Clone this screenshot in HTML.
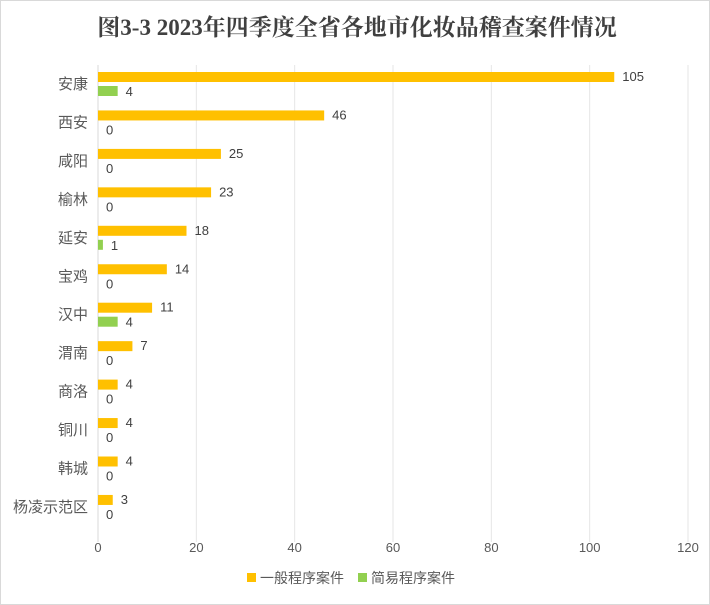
<!DOCTYPE html>
<html><head><meta charset="utf-8"><style>
body{margin:0;background:#fff;}
svg{display:block;font-family:"Liberation Sans","Noto Sans CJK SC",sans-serif;}
</style></head><body>
<svg id="c" width="710" height="605">
<rect x="0.5" y="0.5" width="709" height="604" fill="#fff" stroke="#d9d9d9"/>
<text x="357" y="35" text-anchor="middle" font-size="23" font-weight="bold" fill="#404040" font-family="'Liberation Serif','Noto Serif CJK SC',serif">图3-3  2023年四季度全省各地市化妆品稽查案件情况</text>
<g id="grid"></g><g id="bars"></g><g id="labels"></g>
<g>
<rect x="247" y="573" width="9" height="9" fill="#ffc000"/>
<text x="260" y="583" font-size="14" fill="#595959">一般程序案件</text>
<rect x="358" y="573" width="9" height="9" fill="#92d050"/>
<text x="371" y="583" font-size="14" fill="#595959">简易程序案件</text>
</g>
</svg>
<script>
const categories=["安康","西安","咸阳","榆林","延安","宝鸡","汉中","渭南","商洛","铜川","韩城","杨凌示范区"];
const general=[105,46,25,23,18,14,11,7,4,4,4,3];
const simple=[4,0,0,0,1,0,4,0,0,0,0,0];
const ticks=[0,20,40,60,80,100,120];
const NS="http://www.w3.org/2000/svg";
const x0=98,x1=688,xmax=120,plotTop=65,plotBottom=542,step=38.45,firstC=84;
const xs=v=>x0+v/xmax*(x1-x0);
function mk(t,a,p){const e=document.createElementNS(NS,t);for(const k in a)e.setAttribute(k,a[k]);p.appendChild(e);return e;}
const grid=document.getElementById('grid'),bars=document.getElementById('bars'),labs=document.getElementById('labels');
ticks.forEach(t=>{
 const l=mk('line',{x1:xs(t),x2:xs(t),y1:plotTop,y2:plotBottom,stroke:t===0?'#d9d9d9':'#e6e6e6','stroke-width':1},grid);
 
 
 const tx=mk('text',{x:xs(t),y:552,'text-anchor':'middle','font-size':13,fill:'#595959'},grid);
 tx.textContent=t;
 
 
});
categories.forEach((c,i)=>{
 const cy=firstC+i*step;
 const t=mk('text',{x:88,y:cy+5,'text-anchor':'end','font-size':15,fill:'#595959'},labs);
 t.textContent=c;
 
 
 const b1=mk('rect',{x:x0,y:cy-12,width:Math.max(0,xs(general[i])-x0),height:10,fill:'#ffc000'},bars);
 
 
 const v1=mk('text',{x:xs(general[i])+8,y:cy-3,'font-size':13,fill:'#404040'},labs);
 v1.textContent=general[i];
 
 
 const b2=mk('rect',{x:x0,y:cy+2,width:Math.max(0,xs(simple[i])-x0),height:10,fill:'#92d050'},bars);
 
 
 const v2=mk('text',{x:xs(simple[i])+8,y:cy+12,'font-size':13,fill:'#404040'},labs);
 v2.textContent=simple[i];
 
 
});
</script>
</body></html>
